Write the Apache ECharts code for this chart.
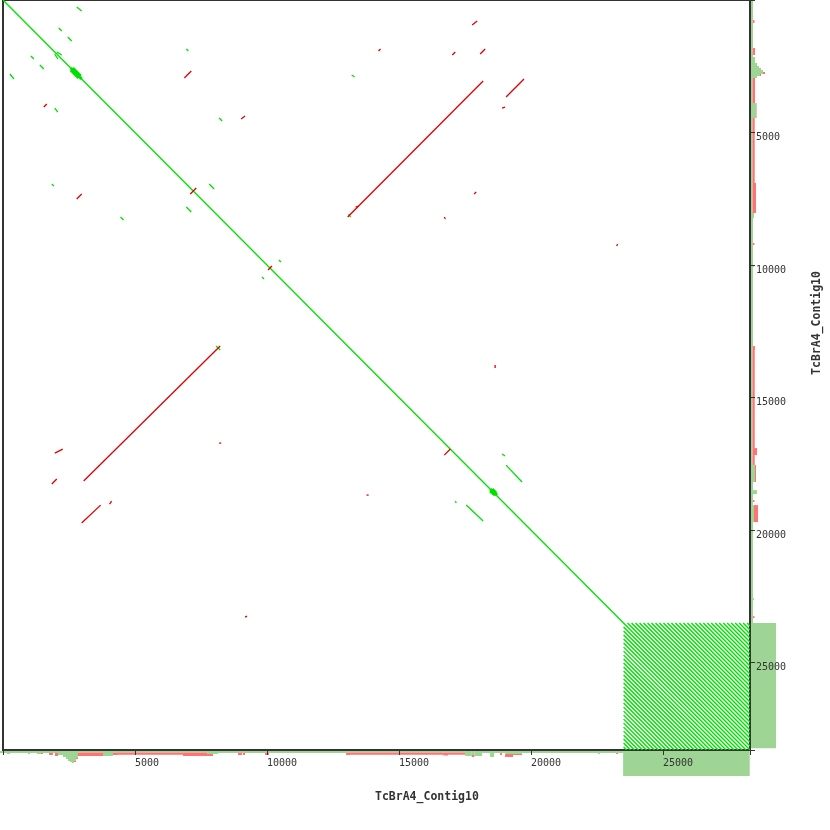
<!DOCTYPE html>
<html>
<head>
<meta charset="utf-8">
<script src="https://cdn.jsdelivr.net/npm/echarts@6/dist/echarts.min.js"></script>
<style>
  html, body { margin: 0; padding: 0; background: #fff; }
  #chart { width: 830px; height: 830px; }
</style>
</head>
<body>
<div id="chart"></div>
<script>
// sequence length (bp) shown on both axes
var seqLen = 28300;
var seqName = 'TcBrA4_Contig10';
var tickStep = 5000;

// forward hits [x1, y1, x2, y2] in bp
var forwardHits = [
  [0, 0, 28300, 28300],
  [2793, 264, 2981, 415], [264, 2793, 415, 2981],
  [2113, 1057, 2227, 1170], [1057, 2113, 1170, 2227],
  [2453, 1396, 2604, 1547], [1396, 2453, 1547, 2604],
  [2038, 1962, 2227, 2076], [1962, 2038, 2076, 2227],
  [6944, 1849, 7019, 1925], [1849, 6944, 1925, 7019],
  [1962, 4076, 2076, 4227],
  [8190, 4453, 8303, 4566], [4453, 8190, 4566, 8303],
  [7812, 6944, 8001, 7133], [6944, 7812, 7133, 8001],
  [10454, 9812, 10529, 9888], [9812, 10454, 9888, 10529],
  [13209, 2830, 13322, 2906],
  [13096, 8076, 13171, 8190], [8076, 13058, 8227, 13209],
  [18907, 17134, 19021, 17209],
  [19059, 17549, 19662, 18190],
  [17134, 18907, 17172, 18983],
  [17549, 19059, 18190, 19662]
];

// dense clusters on the diagonal, drawn thicker
var forwardBlobs = [
  [2566, 2566, 2981, 2981], [2566, 2642, 2868, 2944], [2642, 2566, 2944, 2868],
  [18455, 18455, 18719, 18681], [18455, 18530, 18644, 18681], [18530, 18455, 18681, 18606]
];

// reverse hits [x1, y1, x2, y2] in bp
var reverseHits = [
  [6869, 2944, 7133, 2680],
  [2793, 7510, 2981, 7322],
  [1547, 4038, 1661, 3925],
  [9020, 4491, 9171, 4378],
  [7095, 7322, 7322, 7095],
  [10039, 10190, 10190, 10039],
  [14228, 1925, 14303, 1849],
  [17775, 943, 17964, 792],
  [17021, 2076, 17134, 1962],
  [18077, 2038, 18266, 1849],
  [13058, 8190, 18190, 3057],
  [13360, 7812, 13473, 7774],
  [19059, 3661, 19738, 2981],
  [18907, 4076, 19021, 4038],
  [17851, 7322, 17926, 7246],
  [16719, 8190, 16757, 8265],
  [3057, 18153, 8227, 13058],
  [1962, 17096, 2264, 16945],
  [1849, 18266, 2038, 18077],
  [2981, 19738, 3698, 19059],
  [4038, 19021, 4114, 18907],
  [8190, 16719, 8265, 16719],
  [16719, 17172, 16945, 16945],
  [13775, 18681, 13851, 18681],
  [18644, 13775, 18644, 13888],
  [23285, 9208, 23247, 9284],
  [9171, 23285, 9246, 23247]
];

// tandem repeat block at the end of the contig (offsets from the diagonal, bp)
var repeatStart = 23512;
var repeatOffsets = [151, 302, 453, 604, 755, 906, 1057, 1208, 1358, 1509, 1660, 1811,
  1962, 2113, 2264, 2415, 2566, 2717, 2868, 3019, 3170, 3321, 3472, 3623, 3774, 3925,
  4076, 4227, 4377, 4528, 4679];

// coverage runs [start, end, forward depth, reverse depth]
var bottomRuns = [
  [0, 264, 2, 0], [264, 377, 3, 0], [377, 1057, 2, 0], [1057, 1132, 3, 0],
  [1132, 1396, 2, 0], [1396, 1547, 3, 0], [1547, 1623, 2, 1], [1623, 1849, 2, 0],
  [1849, 2000, 2, 2], [2000, 2076, 2, 0], [2076, 2189, 2, 3], [2189, 2378, 4, 0],
  [2378, 2491, 6, 0], [2491, 2566, 8, 0], [2566, 2642, 10, 0], [2642, 2717, 11, 0],
  [2717, 2793, 12, 0], [2793, 2868, 10, 1], [2868, 2944, 7, 1], [2944, 3887, 1.5, 3.5],
  [3887, 4264, 5, 0], [4264, 4453, 1.5, 2.5], [4453, 6906, 1.5, 2.2], [6906, 7812, 1.5, 3.5],
  [7812, 8038, 3, 2], [8038, 8227, 3, 0], [8227, 8982, 2, 0], [8982, 9133, 1.5, 2.5],
  [9133, 9170, 2, 0], [9170, 9246, 1.5, 2.5], [9246, 10001, 2, 0], [10001, 10152, 1.5, 2.5],
  [10152, 13058, 2, 0], [13058, 13209, 1.5, 2.5], [13209, 16719, 1.5, 2.2], [16719, 16907, 1.5, 3],
  [16907, 17549, 1.5, 2.2], [17549, 17800, 5, 0], [17800, 17900, 4, 2], [17900, 18190, 5, 0],
  [18190, 18493, 2, 0], [18493, 18644, 6, 0], [18644, 18870, 2, 0], [18870, 18945, 1.5, 2.5],
  [18945, 19059, 2, 0], [19059, 19360, 3, 3], [19360, 19700, 3, 1], [19700, 22568, 2, 0],
  [22568, 22644, 3, 0], [22644, 23247, 2, 0], [23247, 23323, 2, 1], [23323, 23512, 2, 0],
  [23512, 28290, 25, 0]
];
var rightRuns = [
  [0, 755, 2, 0], [755, 868, 1.5, 2], [868, 1811, 2, 0], [1811, 2076, 1.5, 2.5],
  [2076, 2151, 2, 0], [2151, 2378, 4, 0], [2378, 2491, 6, 0], [2491, 2566, 8, 0],
  [2566, 2642, 10, 0], [2642, 2717, 12, 0], [2717, 2793, 12, 2], [2793, 2868, 9, 1],
  [2868, 2944, 6, 0], [2944, 3887, 1.5, 2.5], [3887, 4453, 5, 0.5], [4453, 6906, 1.5, 2.2],
  [6906, 8038, 1.5, 3.5], [8038, 8227, 3, 0], [8227, 9170, 2, 0], [9170, 9246, 1.5, 2],
  [9246, 10001, 2, 0], [10001, 10076, 3, 0], [10076, 13058, 2, 0], [13058, 13209, 1.5, 2.5],
  [13209, 16907, 1.5, 2.2], [16907, 17172, 1.5, 4.5], [17172, 17549, 1.5, 2.2], [17549, 18190, 4, 1],
  [18190, 18493, 2, 0], [18493, 18644, 6, 0], [18644, 18870, 2, 0], [18870, 18945, 1.5, 2],
  [18945, 19059, 2, 0], [19059, 19700, 3, 4], [19700, 22568, 2, 0], [22568, 22644, 3, 0],
  [22644, 23247, 2, 0], [23247, 23323, 1.5, 2], [23323, 23512, 2, 0], [23512, 28230, 25, 0]
];
var histMax = 25;

var fwdColor = '#00e000';
var revColor = '#e00000';
var covFwdColor = '#9ed595';
var covRevColor = '#ff7373';
var monoFont = '"DejaVu Sans Mono", monospace';

// repeat lines on both sides of the diagonal
var repeatHits = [];
repeatOffsets.forEach(function (d) {
  repeatHits.push([repeatStart + d, repeatStart, seqLen, seqLen - d]);
  repeatHits.push([repeatStart, repeatStart + d, seqLen - d, seqLen]);
});

function segRenderer(color, width) {
  return function (params, api) {
    var p1 = api.coord([api.value(0), api.value(1)]);
    var p2 = api.coord([api.value(2), api.value(3)]);
    return {
      type: 'line',
      shape: { x1: p1[0], y1: p1[1], x2: p2[0], y2: p2[1] },
      style: { stroke: color, lineWidth: width }
    };
  };
}

function segSeries(data, color, width) {
  return {
    type: 'custom',
    xAxisIndex: 0,
    yAxisIndex: 0,
    clip: true,
    silent: true,
    z: 3,
    encode: { x: [0, 2], y: [1, 3] },
    renderItem: segRenderer(color, width),
    data: data
  };
}

// horizontal=true -> histogram under the x axis
function histSeries(data, idx, horizontal) {
  return {
    type: 'custom',
    xAxisIndex: idx,
    yAxisIndex: idx,
    silent: true,
    z: 1,
    encode: horizontal ? { x: [0, 1], y: [2] } : { y: [0, 1], x: [2] },
    renderItem: function (params, api) {
      var s = api.value(0), e = api.value(1), g = api.value(2), r = api.value(3);
      var a, b, c, d;
      if (horizontal) {
        a = api.coord([s, 0]); b = api.coord([e, g]); c = api.coord([s, g]); d = api.coord([e, g + r]);
      } else {
        a = api.coord([0, s]); b = api.coord([g, e]); c = api.coord([g, s]); d = api.coord([g + r, e]);
      }
      return {
        type: 'group',
        children: [
          { type: 'rect', shape: { x: a[0], y: a[1], width: b[0] - a[0], height: b[1] - a[1] }, style: { fill: covFwdColor } },
          { type: 'rect', shape: { x: c[0], y: c[1], width: d[0] - c[0], height: d[1] - c[1] }, style: { fill: covRevColor } }
        ]
      };
    },
    data: data
  };
}

var labelFmt = function (v) {
  return (v === 0 || v % tickStep !== 0) ? '' : String(v);
};

var chart = echarts.init(document.getElementById('chart'));
chart.setOption({
  animation: false,
  backgroundColor: '#fff',
  grid: [
    { left: 0, top: 0, width: 750, height: 750, show: true, borderColor: '#333', borderWidth: 2, backgroundColor: 'transparent' },
    { left: 0, top: 751, width: 750, height: 25 },
    { left: 751, top: 0, width: 25, height: 750 }
  ],
  xAxis: [
    {
      gridIndex: 0, type: 'value', min: 0, max: seqLen, interval: tickStep, z: 10,
      position: 'bottom',
      axisLine: { onZero: false, lineStyle: { color: '#333', width: 1 } },
      axisTick: { show: true, length: 5, lineStyle: { color: '#333' } },
      splitLine: { show: false },
      axisLabel: { formatter: labelFmt, color: '#333', fontFamily: monoFont, fontSize: 10, align: 'left', verticalAlign: 'top', margin: 8 }
    },
    { gridIndex: 1, type: 'value', min: 0, max: seqLen, show: false },
    { gridIndex: 2, type: 'value', min: 0, max: histMax, show: false }
  ],
  yAxis: [
    {
      gridIndex: 0, type: 'value', min: 0, max: seqLen, interval: tickStep, inverse: true, z: 10,
      position: 'right',
      axisLine: { onZero: false, lineStyle: { color: '#333', width: 1 } },
      axisTick: { show: true, length: 5, lineStyle: { color: '#333' } },
      splitLine: { show: false },
      axisLabel: { formatter: labelFmt, color: '#333', fontFamily: monoFont, fontSize: 10, align: 'left', verticalAlign: 'top', margin: 6 }
    },
    { gridIndex: 1, type: 'value', min: 0, max: histMax, inverse: true, show: false },
    { gridIndex: 2, type: 'value', min: 0, max: seqLen, inverse: true, show: false }
  ],
  graphic: [
    {
      type: 'text', left: 375, top: 791,
      style: { text: seqName, fill: '#333', font: 'bold 11.5px ' + monoFont }
    },
    {
      type: 'text', x: 817, y: 323, rotation: Math.PI / 2,
      style: { text: seqName, fill: '#333', font: 'bold 11.5px ' + monoFont, align: 'center', verticalAlign: 'middle' }
    }
  ],
  series: [
    histSeries(bottomRuns, 1, true),
    histSeries(rightRuns, 2, false),
    segSeries(repeatHits, fwdColor, 1.4),
    segSeries(forwardHits, fwdColor, 1.3),
    segSeries(forwardBlobs, fwdColor, 3),
    segSeries(reverseHits, revColor, 1.3)
  ]
});
</script>
</body>
</html>
